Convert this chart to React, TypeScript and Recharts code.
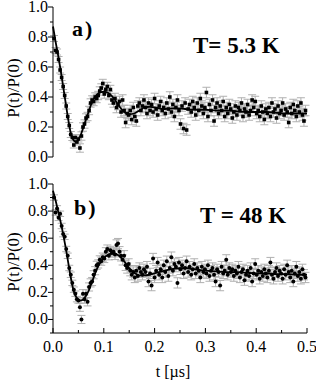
import React from "react";
import {
  ComposedChart,
  Scatter,
  Line,
  XAxis,
  YAxis,
  ErrorBar,
} from "recharts";

// muon spin polarisation, sampled every 3 ns starting at 2 ns
const T0 = 0.002;
const DT = 0.003;

// panel a) T = 5.3 K
const VALUES_A = [
  0.79, 0.71, 0.70, 0.65, 0.58, 0.53, 0.47, 0.41, 0.34, 0.27,
  0.21, 0.15, 0.13, 0.08, 0.13, 0.10, 0.12, 0.06, 0.14, 0.20,
  0.22, 0.26, 0.27, 0.31, 0.36, 0.38, 0.37, 0.40, 0.39, 0.41,
  0.44, 0.46, 0.49, 0.42, 0.45, 0.47, 0.41, 0.45, 0.38, 0.36,
  0.39, 0.33, 0.35, 0.37, 0.30, 0.38, 0.31, 0.23, 0.29, 0.28,
  0.31, 0.25, 0.33, 0.27, 0.24, 0.34, 0.36, 0.31, 0.34, 0.38,
  0.33, 0.29, 0.36, 0.31, 0.35, 0.30, 0.39, 0.32, 0.28, 0.34,
  0.37, 0.31, 0.33, 0.29, 0.36, 0.32, 0.40, 0.30, 0.35, 0.27,
  0.33, 0.38, 0.31, 0.22, 0.34, 0.19, 0.36, 0.18, 0.32, 0.35,
  0.30, 0.37, 0.33, 0.28, 0.36, 0.31, 0.39, 0.34, 0.29, 0.33,
  0.43, 0.27, 0.35, 0.31, 0.38, 0.24, 0.33, 0.36, 0.29, 0.34,
  0.31, 0.37, 0.27, 0.33, 0.29, 0.35, 0.32, 0.26, 0.30, 0.34,
  0.28, 0.33, 0.31, 0.36, 0.27, 0.32, 0.30, 0.35, 0.28, 0.31,
  0.38, 0.33, 0.37, 0.29, 0.31, 0.27, 0.34, 0.30, 0.25, 0.32,
  0.29, 0.33, 0.27, 0.36, 0.30, 0.32, 0.26, 0.34, 0.29, 0.31,
  0.36, 0.28, 0.32, 0.30, 0.23, 0.33, 0.29, 0.35, 0.31, 0.27,
  0.34, 0.30, 0.36, 0.28, 0.24, 0.31,
];

// panel b) T = 48 K
const VALUES_B = [
  0.90, 0.79, 0.82, 0.75, 0.78, 0.69, 0.63, 0.61, 0.52, 0.47,
  0.38, 0.33, 0.27, 0.22, 0.19, 0.15, 0.14, 0.09, 0.00, 0.19,
  0.15, 0.19, 0.13, 0.24, 0.27, 0.28, 0.33, 0.36, 0.40, 0.41,
  0.44, 0.43, 0.46, 0.45, 0.50, 0.52, 0.47, 0.51, 0.49, 0.50,
  0.48, 0.55, 0.56, 0.50, 0.47, 0.44, 0.47, 0.40, 0.38, 0.41,
  0.36, 0.33, 0.35, 0.31, 0.36, 0.32, 0.38, 0.35, 0.33, 0.37,
  0.35, 0.39, 0.28, 0.34, 0.25, 0.45, 0.31, 0.36, 0.42, 0.33,
  0.37, 0.31, 0.40, 0.35, 0.43, 0.32, 0.38, 0.46, 0.36, 0.41,
  0.39, 0.27, 0.42, 0.37, 0.40, 0.34, 0.38, 0.43, 0.35, 0.39,
  0.33, 0.37, 0.41, 0.34, 0.38, 0.36, 0.31, 0.39, 0.35, 0.37,
  0.34, 0.40, 0.32, 0.36, 0.38, 0.33, 0.28, 0.37, 0.35, 0.25,
  0.39, 0.34, 0.36, 0.44, 0.33, 0.38, 0.35, 0.37, 0.32, 0.36,
  0.34, 0.39, 0.31, 0.35, 0.37, 0.29, 0.33, 0.36, 0.32, 0.38,
  0.28, 0.34, 0.41, 0.33, 0.36, 0.30, 0.35, 0.32, 0.37, 0.34,
  0.31, 0.36, 0.42, 0.33, 0.30, 0.35, 0.38, 0.32, 0.36, 0.34,
  0.30, 0.37, 0.33, 0.40, 0.35, 0.31, 0.36, 0.28, 0.34, 0.39,
  0.32, 0.35, 0.30, 0.37, 0.33, 0.31,
];

// error bar half-widths: [up to t, error]
const ERR_A = [[0.05, 0.02], [0.12, 0.028], [0.5, 0.035]];
const ERR_B = [[0.05, 0.02], [0.12, 0.03], [0.5, 0.038]];

// fitted curves
const FIT_T = [
  0, 0.005, 0.01, 0.015, 0.02, 0.025, 0.03, 0.035, 0.04, 0.045, 0.05,
  0.055, 0.06, 0.065, 0.07, 0.075, 0.08, 0.085, 0.09, 0.095, 0.1,
  0.11, 0.12, 0.13, 0.14, 0.15, 0.16, 0.17, 0.18, 0.19, 0.2,
  0.22, 0.24, 0.26, 0.28, 0.3, 0.32, 0.34, 0.36, 0.38, 0.4, 0.42, 0.44, 0.46, 0.48, 0.5,
];
const FIT_A = [
  0.87, 0.77, 0.68, 0.58, 0.47, 0.36, 0.25, 0.16, 0.115, 0.10, 0.115,
  0.15, 0.20, 0.25, 0.30, 0.35, 0.385, 0.41, 0.425, 0.432, 0.435,
  0.425, 0.39, 0.34, 0.30, 0.285, 0.29, 0.31, 0.33, 0.335, 0.33,
  0.32, 0.325, 0.32, 0.315, 0.315, 0.31, 0.31, 0.305, 0.30, 0.30, 0.30, 0.295, 0.29, 0.29, 0.29,
];
const FIT_B = [
  0.95, 0.88, 0.80, 0.72, 0.63, 0.53, 0.42, 0.31, 0.22, 0.17, 0.145,
  0.14, 0.15, 0.175, 0.21, 0.26, 0.31, 0.36, 0.40, 0.43, 0.455,
  0.48, 0.49, 0.47, 0.43, 0.38, 0.345, 0.325, 0.325, 0.33, 0.34,
  0.36, 0.375, 0.38, 0.37, 0.36, 0.355, 0.35, 0.35, 0.345, 0.34, 0.34, 0.335, 0.335, 0.33, 0.33,
];

const X_TICKS = [0, 0.05, 0.1, 0.15, 0.2, 0.25, 0.3, 0.35, 0.4, 0.45, 0.5];
const Y_TICKS_A = [0, 0.1, 0.2, 0.3, 0.4, 0.5, 0.6, 0.7, 0.8, 0.9, 1.0];
const Y_TICKS_B = [-0.1, 0, 0.1, 0.2, 0.3, 0.4, 0.5, 0.6, 0.7, 0.8, 0.9, 1.0];

const FONT = "Liberation Serif";
const txt = (size: number, bold = false): React.CSSProperties => ({
  fontFamily: FONT,
  fontSize: size,
  fontWeight: bold ? 700 : 400,
});

function errFor(t: number, steps: number[][]) {
  for (const [until, e] of steps) if (t <= until + 1e-9) return e;
  return steps[steps.length - 1][1];
}

function points(values: number[], steps: number[][]) {
  return values.map((v, i) => {
    const t = +(T0 + DT * i).toFixed(3);
    return { t, v, e: errFor(t, steps) };
  });
}

function fit(values: number[]) {
  return FIT_T.map((t, i) => ({ t, v: values[i] }));
}

const isMult = (v: number, step: number) =>
  Math.abs(v / step - Math.round(v / step)) < 1e-6;

// tick renderers (tickSize=0 so x/y sit on the axis line)
function BottomTick(props: any) {
  const { x, y, payload, showLabel } = props;
  const major = isMult(payload.value, 0.1);
  return (
    <g>
      <line x1={x} x2={x} y1={y} y2={y - (major ? 5 : 3)} stroke="#000" />
      {showLabel && major && (
        <text x={x} y={y + 19} textAnchor="middle" fill="#000" style={txt(16)}>
          {payload.value.toFixed(1)}
        </text>
      )}
    </g>
  );
}

function TopTick(props: any) {
  const { x, y, payload } = props;
  const major = isMult(payload.value, 0.1);
  return <line x1={x} x2={x} y1={y} y2={y + (major ? 5 : 3)} stroke="#000" />;
}

function LeftTick(props: any) {
  const { x, y, payload } = props;
  const major = isMult(payload.value, 0.2);
  return (
    <g>
      <line x1={x - (major ? 5 : 3)} x2={x} y1={y} y2={y} stroke="#000" />
      {major && (
        <text x={x - 5} y={y} dy={5} textAnchor="end" fill="#000" style={txt(16)}>
          {payload.value.toFixed(1)}
        </text>
      )}
    </g>
  );
}

function RightTick(props: any) {
  const { x, y, payload } = props;
  const major = isMult(payload.value, 0.2);
  return <line x1={x - (major ? 5 : 3)} x2={x} y1={y} y2={y} stroke="#000" />;
}

const Square = (p: any) => <rect x={p.cx - 1.8} y={p.cy - 1.8} width={3.6} height={3.6} fill="#000" />;
const Dot = (p: any) => <circle cx={p.cx} cy={p.cy} r={2} fill="#000" />;

function Panel(props: {
  data: any[];
  curve: any[];
  yDomain: number[];
  yTicks: number[];
  height: number;
  margin: any;
  xHeight: number;
  showX: boolean;
  shape: any;
}) {
  const { data, curve, yDomain, yTicks, height, margin, xHeight, showX, shape } = props;
  return (
    <ComposedChart width={316} height={height} margin={margin}>
      <XAxis
        xAxisId={0}
        dataKey="t"
        type="number"
        domain={[0, 0.5]}
        ticks={X_TICKS}
        interval={0}
        height={xHeight}
        tickSize={0}
        tickMargin={0}
        stroke="#000"
        tick={(p: any) => <BottomTick {...p} showLabel={showX} />}
      />
      <XAxis
        xAxisId="top"
        orientation="top"
        type="number"
        domain={[0, 0.5]}
        ticks={X_TICKS}
        interval={0}
        height={0}
        tickSize={0}
        tickMargin={0}
        stroke="#000"
        tick={(p: any) => <TopTick {...p} />}
      />
      <YAxis
        yAxisId={0}
        dataKey="v"
        type="number"
        domain={yDomain}
        ticks={yTicks}
        interval={0}
        width={53}
        tickSize={0}
        tickMargin={0}
        stroke="#000"
        allowDataOverflow
        tick={(p: any) => <LeftTick {...p} />}
      />
      <YAxis
        yAxisId="right"
        orientation="right"
        type="number"
        domain={yDomain}
        ticks={yTicks}
        interval={0}
        width={0}
        tickSize={0}
        tickMargin={0}
        stroke="#000"
        tick={(p: any) => <RightTick {...p} />}
      />
      <Scatter data={data} dataKey="v" shape={shape} isAnimationActive={false}>
        <ErrorBar dataKey="e" direction="y" width={4} stroke="#b0b0b0" strokeWidth={1} />
      </Scatter>
      <Line
        data={curve}
        dataKey="v"
        type="monotone"
        dot={false}
        stroke="#000"
        strokeWidth={1.8}
        isAnimationActive={false}
      />
    </ComposedChart>
  );
}

export default function App() {
  const dataA = points(VALUES_A, ERR_A);
  const dataB = points(VALUES_B, ERR_B);
  return (
    <div
      style={{
        position: "absolute",
        left: 0,
        top: 0,
        width: 316,
        height: 380,
        background: "#fff",
        fontFamily: FONT,
      }}
    >
      <div style={{ position: "absolute", left: 0, top: 0 }}>
        <Panel
          data={dataA}
          curve={fit(FIT_A)}
          yDomain={[0, 1]}
          yTicks={Y_TICKS_A}
          height={165}
          margin={{ top: 7, right: 9, bottom: 8, left: 0 }}
          xHeight={0}
          showX={false}
          shape={Square}
        />
      </div>
      <div style={{ position: "absolute", left: 0, top: 170 }}>
        <Panel
          data={dataB}
          curve={fit(FIT_B)}
          yDomain={[-0.1, 1]}
          yTicks={Y_TICKS_B}
          height={210}
          margin={{ top: 14, right: 9, bottom: 0, left: 0 }}
          xHeight={47}
          showX={true}
          shape={Dot}
        />
      </div>
      <svg
        width={316}
        height={380}
        style={{ position: "absolute", left: 0, top: 0, pointerEvents: "none" }}
      >
        <text x={19} y={88} transform="rotate(-90 19 88)" textAnchor="middle" fill="#000" style={txt(17)}>
          P(t)/P(0)
        </text>
        <text x={19} y={262} transform="rotate(-90 19 262)" textAnchor="middle" fill="#000" style={txt(17)}>
          P(t)/P(0)
        </text>
        <text x={72} y={36} fill="#000" letterSpacing={2} style={txt(22, true)}>
          a)
        </text>
        <text x={74} y={215} fill="#000" letterSpacing={2} style={txt(22, true)}>
          b)
        </text>
        <text x={193} y={53} fill="#000" style={txt(23, true)}>
          T= 5.3 K
        </text>
        <text x={200} y={223} fill="#000" style={txt(23, true)}>
          T = 48 K
        </text>
        <text x={173} y={377} textAnchor="middle" fill="#000" style={txt(16)}>
          t [µs]
        </text>
      </svg>
    </div>
  );
}
